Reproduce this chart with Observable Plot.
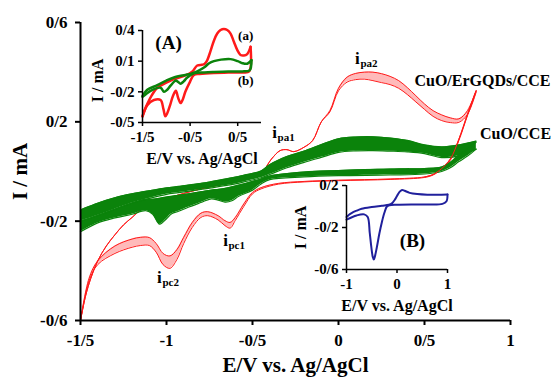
<!DOCTYPE html>
<html><head><meta charset="utf-8">
<script src="https://cdn.jsdelivr.net/npm/d3@7"></script>
<script src="https://cdn.jsdelivr.net/npm/@observablehq/plot@0.6"></script>
<style>
html,body{margin:0;padding:0;background:#fff;}
#wrap{position:relative;width:554px;height:379px;overflow:hidden;}
.inset{position:absolute;}
svg{overflow:visible;}
</style></head>
<body><div id="wrap"></div>
<script>
// ---------- main chart data ----------
const xTicks = [-1.5, -1, -0.5, 0, 0.5, 1];
const yTicks = [-0.6, -0.2, 0.2, 0.6];

// CuO/ErGQDs/CCE (red) - anodic sweep, outer (A) and inner (B) cycle
const redFwdV = [-1.5,-1.47,-1.44,-1.4,-1.35,-1.3,-1.25,-1.2,-1.15,-1.0,-0.8,-0.6,-0.45,-0.39,-0.34,-0.3,-0.26,-0.2,-0.15,-0.1,-0.05,0.0,0.05,0.1,0.15,0.2,0.25,0.3,0.35,0.4,0.45,0.5,0.55,0.6,0.65,0.7,0.75,0.8];
const redFwdA = [-0.6,-0.5,-0.43,-0.36,-0.3,-0.255,-0.215,-0.185,-0.155,-0.11,-0.07,-0.04,-0.005,0.05,0.084,0.088,0.08,0.098,0.125,0.2,0.245,0.335,0.38,0.395,0.4,0.4,0.394,0.383,0.366,0.338,0.305,0.272,0.245,0.228,0.216,0.212,0.245,0.325];
const redFwdB = [-0.6,-0.5,-0.43,-0.36,-0.3,-0.255,-0.215,-0.185,-0.155,-0.11,-0.07,-0.04,-0.005,0.05,0.084,0.088,0.08,0.098,0.125,0.2,0.24,0.325,0.36,0.37,0.372,0.366,0.358,0.35,0.335,0.31,0.28,0.25,0.222,0.205,0.197,0.198,0.23,0.32];
// red - cathodic sweep
const redRevV = [0.8,0.75,0.7,0.65,0.6,0.55,0.5,0.3,0.0,-0.2,-0.35,-0.45,-0.5,-0.55,-0.6,-0.63,-0.66,-0.7,-0.76,-0.8,-0.85,-0.9,-0.94,-0.98,-1.02,-1.06,-1.1,-1.15,-1.2,-1.3,-1.4,-1.45,-1.5];
const redRevA = [0.325,0.23,0.13,0.05,0.012,-0.012,-0.022,-0.03,-0.035,-0.04,-0.048,-0.065,-0.085,-0.13,-0.185,-0.205,-0.198,-0.178,-0.162,-0.168,-0.205,-0.265,-0.315,-0.34,-0.33,-0.29,-0.266,-0.265,-0.272,-0.3,-0.36,-0.43,-0.6];
const redRevB = [0.32,0.225,0.125,0.045,0.009,-0.014,-0.024,-0.032,-0.037,-0.042,-0.051,-0.07,-0.09,-0.14,-0.197,-0.228,-0.218,-0.195,-0.178,-0.185,-0.225,-0.29,-0.355,-0.39,-0.375,-0.325,-0.298,-0.298,-0.305,-0.33,-0.375,-0.44,-0.6];

// CuO/CCE (green) - band edges
const gFwdV = [-1.5,-1.4,-1.3,-1.2,-1.12,-1.0,-0.93,-0.8,-0.74,-0.6,-0.55,-0.45,-0.4,-0.3,-0.2,-0.1,0.0,0.1,0.2,0.3,0.4,0.5,0.6,0.7,0.8];
const gFwdTop = [-0.155,-0.128,-0.106,-0.09,-0.08,-0.066,-0.06,-0.048,-0.041,-0.023,-0.015,0.002,0.027,0.06,0.082,0.108,0.132,0.139,0.14,0.135,0.125,0.107,0.099,0.107,0.122];
const gFwdBot = [-0.2,-0.177,-0.152,-0.127,-0.112,-0.092,-0.085,-0.072,-0.066,-0.05,-0.042,-0.025,-0.012,0.015,0.037,0.057,0.077,0.083,0.084,0.082,0.079,0.072,0.056,0.063,0.09];
const gRevV = [0.8,0.75,0.7,0.65,0.6,0.5,0.3,0.0,-0.2,-0.4,-0.45,-0.5,-0.58,-0.62,-0.66,-0.7,-0.74,-0.8,-0.87,-0.93,-0.97,-1.0,-1.04,-1.08,-1.12,-1.2,-1.3,-1.4,-1.5];
const gRevTop = [0.118,0.09,0.066,0.036,0.018,0.012,0.01,0.004,-0.002,-0.018,-0.03,-0.04,-0.055,-0.062,-0.068,-0.072,-0.075,-0.082,-0.09,-0.096,-0.1,-0.103,-0.108,-0.112,-0.112,-0.127,-0.152,-0.177,-0.2];
const gRevBot = [0.09,0.062,0.04,0.015,0.0,-0.01,-0.014,-0.017,-0.022,-0.033,-0.05,-0.075,-0.1,-0.118,-0.123,-0.115,-0.11,-0.125,-0.143,-0.16,-0.17,-0.19,-0.212,-0.172,-0.158,-0.172,-0.187,-0.207,-0.243];

// annotations
const curveNames = ["CuO/ErGQDs/CCE", "CuO/CCE"];
const curveNameV = [0.837, 1.029];
const curveNameI = [0.366, 0.153];
const peakNames = ["pa2", "pa1", "pc1", "pc2"];
const peakV = [0.11, -0.372, -0.657, -1.041];
const peakI = [0.454, 0.157, -0.277, -0.426];

// ---------- inset A data ----------
const aXTicks = [-1.5, -0.5, 0.5];
const aYTicks = [0.4, 0.1, -0.2, -0.5];
const aFwdV = [-1.5,-1.4,-1.3,-1.19,-1.0,-0.84,-0.6,-0.45,-0.35,-0.25,-0.2,-0.15,-0.07,0.0,0.07,0.14,0.21,0.28,0.35,0.42,0.49,0.56,0.63,0.7,0.77];
const aFwdI = [-0.44,-0.32,-0.23,-0.16,-0.11,-0.075,-0.04,0.0,0.058,0.065,0.072,0.1,0.2,0.3,0.37,0.405,0.415,0.405,0.37,0.29,0.21,0.16,0.155,0.17,0.24];
const aRevV = [0.77,0.74,0.6,0.3,0.0,-0.3,-0.42,-0.5,-0.6,-0.65,-0.7,-0.75,-0.8,-0.86,-0.92,-0.98,-1.02,-1.06,-1.12,-1.26,-1.4,-1.5];
const aRevI = [0.24,0.0,-0.01,-0.012,-0.015,-0.025,-0.035,-0.1,-0.2,-0.27,-0.31,-0.26,-0.19,-0.24,-0.33,-0.41,-0.44,-0.37,-0.28,-0.28,-0.33,-0.44];
const bFwdV = [-1.5,-1.4,-1.19,-1.0,-0.84,-0.6,-0.49,-0.35,-0.2,-0.1,0.0,0.15,0.35,0.5,0.6,0.7,0.79];
const bFwdI = [-0.24,-0.18,-0.135,-0.09,-0.06,-0.035,-0.024,0.0,0.04,0.08,0.1,0.115,0.12,0.1,0.08,0.075,0.11];
const bRevV = [0.79,0.75,0.6,0.3,0.0,-0.2,-0.42,-0.56,-0.64,-0.7,-0.76,-0.8,-0.91,-0.98,-1.05,-1.12,-1.33,-1.5];
const bRevI = [0.11,0.01,0.0,0.0,-0.005,-0.01,-0.02,-0.06,-0.1,-0.12,-0.1,-0.09,-0.14,-0.18,-0.2,-0.16,-0.19,-0.25];
const insetALabels = ["(A)", "(a)", "(b)"];
const insetALabelSize = [19, 13, 13];
const insetALabelV = [-0.953, 0.668, 0.668];
const insetALabelI = [0.283, 0.351, -0.089];

// ---------- inset B data ----------
const bXTicks = [-1, 0, 1];
const bYTicks = [0.2, -0.2, -0.6];
const blueFwdV = [-1.0,-0.95,-0.9,-0.8,-0.7,-0.5,-0.3,-0.16,-0.1,-0.05,0.0,0.05,0.1,0.15,0.25,0.4,0.6,0.8,1.0];
const blueFwdI = [-0.1,-0.078,-0.062,-0.04,-0.022,-0.005,0.007,0.016,0.03,0.06,0.1,0.14,0.158,0.15,0.13,0.118,0.112,0.112,0.115];
const blueRevV = [1.0,0.98,0.9,0.5,0.0,-0.15,-0.2,-0.25,-0.3,-0.35,-0.4,-0.44,-0.46,-0.48,-0.51,-0.54,-0.58,-0.65,-0.8,-1.0];
const blueRevI = [0.115,0.05,0.025,0.02,0.017,0.012,0.0,-0.06,-0.15,-0.26,-0.39,-0.48,-0.505,-0.48,-0.38,-0.25,-0.1,-0.075,-0.085,-0.125];

// ---------- helpers ----------
const fmt = d => String(d).replace(".", "/");
const pairs = (V, I) => V.map((v, i) => ({v, i: I[i]}));
const band = (V, A, B) => V.map((v, k) => ({v, a: A[k], b: B[k]}));
const RED = "#ff1a1a", GREEN = "#0b830b", BLUE = "#20209c";
const FONT = "'Liberation Serif', 'Times New Roman', serif";
const curve = "catmull-rom";

const redF = band(redFwdV, redFwdA, redFwdB);
const redR = band(redRevV, redRevA, redRevB);
const gF = band(gFwdV, gFwdTop, gFwdBot);
const gR = band(gRevV, gRevTop, gRevBot);
const curveLab = curveNames.map((t, k) => ({t, v: curveNameV[k], i: curveNameI[k]}));
const peakLab = peakNames.map((t, k) => ({t, v: peakV[k], i: peakI[k]}));

const wrap = document.getElementById("wrap");

const main = Plot.plot({
  width: 554, height: 379,
  marginLeft: 80, marginRight: 44, marginTop: 22, marginBottom: 59,
  x: {domain: [-1.5, 1]},
  y: {domain: [-0.6, 0.6]},
  style: {fontFamily: FONT, fontWeight: "bold", background: "white", color: "black", overflow: "visible"},
  marks: [
    // red cycles
    Plot.areaY(redF, {x: "v", y1: "b", y2: "a", fill: RED, fillOpacity: 0.3, curve}),
    Plot.areaY(redR, {x: "v", y1: "b", y2: "a", fill: RED, fillOpacity: 0.3, curve}),
    Plot.line(redF, {x: "v", y: "a", stroke: RED, strokeWidth: 1, curve}),
    Plot.line(redF, {x: "v", y: "b", stroke: RED, strokeWidth: 1, curve}),
    Plot.line(redR, {x: "v", y: "a", stroke: RED, strokeWidth: 1, curve}),
    Plot.line(redR, {x: "v", y: "b", stroke: RED, strokeWidth: 1, curve}),
    // green band
    Plot.areaY(gF, {x: "v", y1: "b", y2: "a", fill: GREEN, curve}),
    Plot.areaY(gR, {x: "v", y1: "b", y2: "a", fill: GREEN, curve}),
    Plot.line(gF, {x: "v", y: "a", stroke: GREEN, strokeWidth: 1.2, curve}),
    Plot.line(gF, {x: "v", y: "b", stroke: GREEN, strokeWidth: 1.2, curve}),
    Plot.line(gR, {x: "v", y: "a", stroke: GREEN, strokeWidth: 1.2, curve}),
    Plot.line(gR, {x: "v", y: "b", stroke: GREEN, strokeWidth: 1.2, curve}),
    // red return line crossing over the green near the vertex
    Plot.line(redR, {filter: d => d.v >= 0.5, x: "v", y: "a", stroke: RED, strokeWidth: 1, curve}),
    // axes
    Plot.ruleX([-1.5], {strokeWidth: 2}),
    Plot.ruleY([-0.6], {strokeWidth: 2}),
    Plot.axisX({ticks: xTicks, tickFormat: fmt, tickSize: 5, tickPadding: 8, fontSize: 17, strokeWidth: 2, label: null}),
    Plot.axisY({ticks: yTicks, tickFormat: fmt, tickSize: 5, tickPadding: 8, fontSize: 17, strokeWidth: 2, label: null}),
    Plot.text(["E/V vs. Ag/AgCl"], {frameAnchor: "bottom", lineAnchor: "middle", dy: 45, fontSize: 21, fontWeight: "bold"}),
    Plot.text(["I / mA"], {frameAnchor: "left", textAnchor: "middle", lineAnchor: "middle", rotate: -90, dx: -60, fontSize: 21, fontWeight: "bold"}),
    // annotations
    Plot.text(curveLab, {x: "v", y: "i", text: "t", fontSize: 16, fontWeight: "bold"}),
    Plot.text(peakLab, {x: "v", y: "i", text: () => "i", fontSize: 17, fontWeight: "bold"}),
    Plot.text(peakLab, {x: "v", y: "i", text: "t", dx: 3, dy: 5, textAnchor: "start", fontSize: 11, fontWeight: "bold"})
  ]
});
wrap.appendChild(main);

// ---------- inset A ----------
const insetA = Plot.plot({
  width: 180, height: 165,
  marginLeft: 52, marginRight: 9, marginTop: 20, marginBottom: 53,
  x: {domain: [-1.5, 1]},
  y: {domain: [-0.5, 0.4]},
  style: {fontFamily: FONT, fontWeight: "bold", background: "transparent", color: "black", overflow: "visible"},
  marks: [
    Plot.line(pairs(aFwdV, aFwdI), {x: "v", y: "i", stroke: RED, strokeWidth: 2.5, curve}),
    Plot.line(pairs(aRevV, aRevI), {x: "v", y: "i", stroke: RED, strokeWidth: 2.5, curve}),
    Plot.line(pairs(bFwdV, bFwdI), {x: "v", y: "i", stroke: GREEN, strokeWidth: 2.5, curve}),
    Plot.line(pairs(bRevV, bRevI), {x: "v", y: "i", stroke: GREEN, strokeWidth: 2.5, curve}),
    Plot.ruleX([-1.5], {strokeWidth: 1.5}),
    Plot.ruleY([-0.5], {strokeWidth: 1.5}),
    Plot.axisX({ticks: aXTicks, tickFormat: fmt, tickSize: 4, tickPadding: 5, fontSize: 15, strokeWidth: 1.5, label: null}),
    Plot.axisY({ticks: aYTicks, tickFormat: fmt, tickSize: 4, tickPadding: 4, fontSize: 15, strokeWidth: 1.5, label: null}),
    Plot.text(["E/V vs. Ag/AgCl"], {frameAnchor: "bottom", lineAnchor: "middle", dy: 36, fontSize: 16, fontWeight: "bold"}),
    Plot.text(["I / mA"], {frameAnchor: "left", textAnchor: "middle", lineAnchor: "middle", rotate: -90, dx: -45, dy: 4, fontSize: 16, fontWeight: "bold"}),
    Plot.text(insetALabels.map((t, k) => ({t, s: insetALabelSize[k], v: insetALabelV[k], i: insetALabelI[k]})),
      {x: "v", y: "i", text: "t", fontSize: "s", fontWeight: "bold"})
  ]
});
const divA = document.createElement("div");
divA.className = "inset"; divA.style.left = "90px"; divA.style.top = "10px";
divA.appendChild(insetA); wrap.appendChild(divA);

// ---------- inset B ----------
const insetB = Plot.plot({
  width: 165, height: 145,
  marginLeft: 56, marginRight: 8, marginTop: 15, marginBottom: 46,
  x: {domain: [-1, 1]},
  y: {domain: [-0.6, 0.2]},
  style: {fontFamily: FONT, fontWeight: "bold", background: "transparent", color: "black", overflow: "visible"},
  marks: [
    Plot.line(pairs(blueFwdV, blueFwdI), {x: "v", y: "i", stroke: BLUE, strokeWidth: 2, curve}),
    Plot.line(pairs(blueRevV, blueRevI), {x: "v", y: "i", stroke: BLUE, strokeWidth: 2, curve}),
    Plot.ruleX([-1], {strokeWidth: 1.5}),
    Plot.ruleY([-0.6], {strokeWidth: 1.5}),
    Plot.axisX({ticks: bXTicks, tickFormat: fmt, tickSize: 4, tickPadding: 5, fontSize: 15, strokeWidth: 1.5, label: null}),
    Plot.axisY({ticks: bYTicks, tickFormat: fmt, tickSize: 4, tickPadding: 4, fontSize: 15, strokeWidth: 1.5, label: null}),
    Plot.text(["E/V vs. Ag/AgCl"], {frameAnchor: "bottom", lineAnchor: "middle", dy: 36, fontSize: 16, fontWeight: "bold"}),
    Plot.text(["I / mA"], {frameAnchor: "left", textAnchor: "middle", lineAnchor: "middle", rotate: -90, dx: -46, fontSize: 16, fontWeight: "bold"}),
    Plot.text([{t: "(B)", v: 0.307, i: -0.324}], {x: "v", y: "i", text: "t", fontSize: 19, fontWeight: "bold"})
  ]
});
const divB = document.createElement("div");
divB.className = "inset"; divB.style.left = "290px"; divB.style.top = "170px";
divB.appendChild(insetB); wrap.appendChild(divB);
</script></body></html>
